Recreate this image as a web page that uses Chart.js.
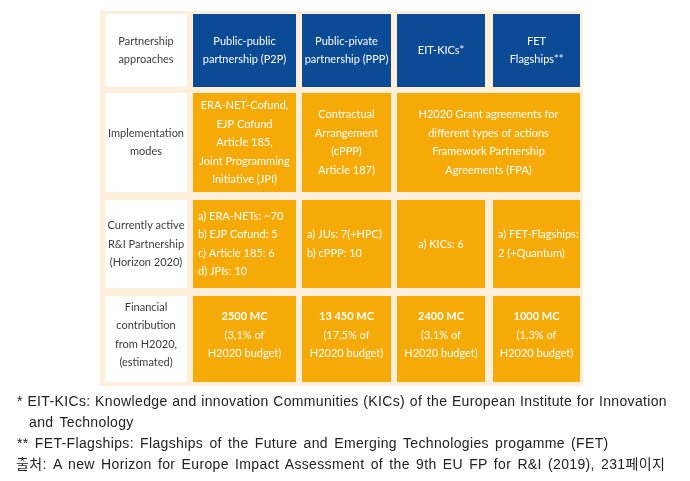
<!DOCTYPE html>
<html>
<head>
<meta charset="utf-8">
<script src="https://cdn.jsdelivr.net/npm/chart.js@4/dist/chart.umd.min.js"></script>
<style>
    body { margin: 0; background: #fff; }
    #page { position: relative; width: 690px; height: 481px; overflow: hidden; }
    #table { position: absolute; left: 0; top: 0; }
    .note { position: absolute; font-family: "Liberation Sans", "Noto Sans CJK KR", sans-serif; font-size: 14px; color: #222; white-space: nowrap; line-height: 21px; letter-spacing: 0.35px; word-spacing: 2px; }
    .justify { text-align: justify; text-align-last: justify; word-spacing: 0; }
</style>
</head>
<body>
<div id="page">
    <canvas id="table" width="690" height="481"></canvas>
    <div class="note justify" style="left:17px; top:391px; width:650px;">* EIT-KICs: Knowledge and innovation Communities (KICs) of the European Institute for Innovation</div>
    <div class="note" style="left:29px; top:412px;">and Technology</div>
    <div class="note" style="left:17px; top:433px;">** FET-Flagships: Flagships of the Future and Emerging Technologies progamme (FET)</div>
    <div class="note" style="left:16px; top:454px;">출처: A new Horizon for Europe Impact Assessment of the 9th EU FP for R&amp;I (2019), 231페이지</div>
</div>
<script>
// table content
const rowHeaders = [
    ['Partnership', 'approaches'],
    ['Implementation', 'modes'],
    ['Currently active', 'R&I Partnership', '(Horizon 2020)'],
    ['Financial', 'contribution', 'from H2020,', '(estimated)']
];
const approaches = [
    ['Public-public', 'partnership (P2P)'],
    ['Public-pivate', 'partnership (PPP)'],
    ['EIT-KICs*'],
    ['FET', 'Flagships**']
];
const implementationModes = [
    ['ERA-NET-Cofund,', 'EJP Cofund', 'Article 185,', 'Joint Programming', 'Initiative (JPI)'],
    ['Contractual', 'Arrangement', '(cPPP)', 'Article 187)'],
    ['H2020 Grant agreements for', 'different types of actions', 'Framework Partnership', 'Agreements (FPA)']
];
const activePartnerships = [
    ['a) ERA-NETs: ~70', 'b) EJP Cofund: 5', 'c) Article 185: 6', 'd) JPIs: 10'],
    ['a) JUs: 7(+HPC)', 'b) cPPP: 10'],
    ['a) KICs: 6'],
    ['a) FET-Flagships:', '2 (+Quantum)']
];
const contributionMC = [2500, 13450, 2400, 1000];
const contributionShare = [3.1, 17.5, 3.1, 1.3];

// layout, in scale units (1 unit = 1 px)
const colEdges = [[105, 187], [193, 296], [302, 391], [397, 485], [493, 580]];
const rowEdges = [[14, 87], [93, 192], [200, 288], [296, 382]];
const frame = [100, 11, 583, 386];
const BLUE = '#0b4a94', ORANGE = '#f6aa08', CREAM = '#fdefda';
const FONT = 'Lato, "Open Sans", sans-serif';

// 13450 -> "13 450 MC", 2500 -> "2500 MC"
function fmtMC(v) {
    let s = String(v);
    if (v >= 10000) s = s.replace(/\B(?=(\d{3})+(?!\d))/g, ' ');
    return s + ' MC';
}

function buildCells() {
    let cells = [];
    rowHeaders.forEach((lines, r) => {
        cells.push({ r: r, c0: 0, c1: 0, fill: '#fff', color: '#3c3c3c', lines: lines });
    });
    approaches.forEach((lines, i) => {
        cells.push({ r: 0, c0: i + 1, c1: i + 1, fill: BLUE, color: '#fff', lines: lines });
    });
    implementationModes.forEach((lines, i) => {
        let span = i === 2 ? 4 : i + 1;
        cells.push({ r: 1, c0: i + 1, c1: span, fill: ORANGE, color: '#fff', lines: lines });
    });
    activePartnerships.forEach((lines, i) => {
        cells.push({ r: 2, c0: i + 1, c1: i + 1, fill: ORANGE, color: '#fff', lines: lines, left: i !== 2 });
    });
    contributionMC.forEach((v, i) => {
        let pct = String(contributionShare[i]).replace('.', ',');
        cells.push({ r: 3, c0: i + 1, c1: i + 1, fill: ORANGE, color: '#fff', bold: 0,
            lines: [fmtMC(v), '(' + pct + '% of', 'H2020 budget)'] });
    });
    return cells;
}

const tablePlugin = {
    id: 'tableCells',
    afterDatasetsDraw(chart) {
        const ctx = chart.ctx;
        const xs = chart.scales.x, ys = chart.scales.y;
        ctx.save();
        let fx0 = xs.getPixelForValue(frame[0]), fy0 = ys.getPixelForValue(frame[1]);
        ctx.fillStyle = CREAM;
        ctx.fillRect(fx0, fy0, xs.getPixelForValue(frame[2]) - fx0, ys.getPixelForValue(frame[3]) - fy0);
        buildCells().forEach((cell) => {
            let x0 = xs.getPixelForValue(colEdges[cell.c0][0]);
            let x1 = xs.getPixelForValue(colEdges[cell.c1][1]);
            let y0 = ys.getPixelForValue(rowEdges[cell.r][0]);
            let y1 = ys.getPixelForValue(rowEdges[cell.r][1]);
            ctx.fillStyle = cell.fill;
            ctx.fillRect(x0, y0, x1 - x0, y1 - y0);
            let lh = 18.5;
            let cy = (y0 + y1) / 2 + (cell.r === 3 ? -4 : 0) - (cell.lines.length - 1) * lh / 2;
            ctx.fillStyle = cell.color;
            ctx.textBaseline = 'middle';
            cell.lines.forEach((t, k) => {
                ctx.font = (cell.bold === k ? 'bold ' : '') + '11px ' + FONT;
                if (cell.left) {
                    ctx.textAlign = 'left';
                    ctx.fillText(t, x0 + 5, cy + k * lh);
                } else {
                    ctx.textAlign = 'center';
                    ctx.fillText(t, (x0 + x1) / 2, cy + k * lh);
                }
            });
        });
        ctx.restore();
    }
};

new Chart(document.getElementById('table').getContext('2d'), {
    type: 'scatter',
    data: { datasets: [] },
    options: {
        responsive: false,
        animation: false,
        layout: { padding: 0 },
        plugins: { legend: { display: false }, tooltip: { enabled: false } },
        scales: {
            x: { type: 'linear', min: 0, max: 690, display: false },
            y: { type: 'linear', min: 0, max: 481, reverse: true, display: false }
        }
    },
    plugins: [tablePlugin]
});
</script>
</body>
</html>
